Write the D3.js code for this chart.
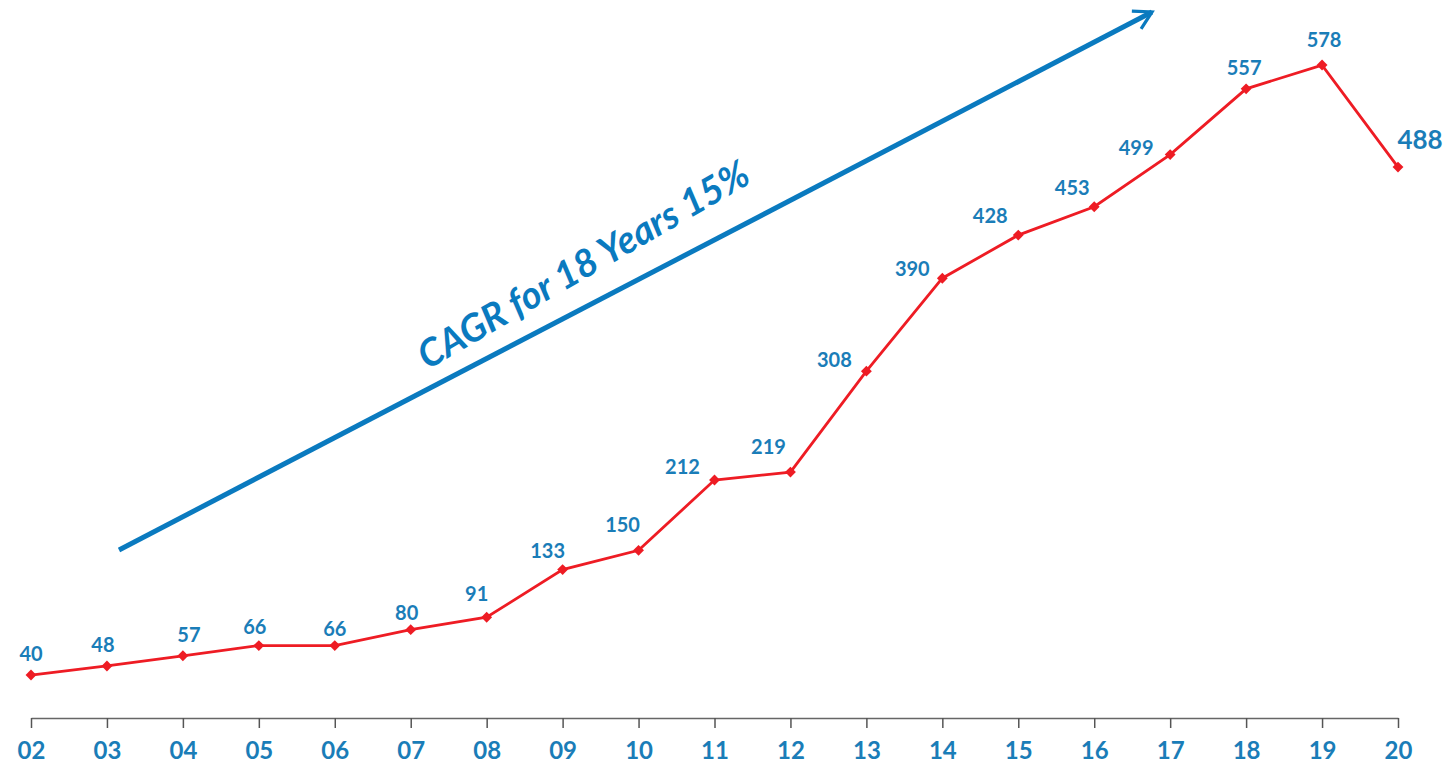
<!DOCTYPE html>
<html>
<head>
<meta charset="utf-8">
<script src="https://cdn.jsdelivr.net/npm/d3@7"></script>
<style>
  body { margin: 0; background: #fff; }
  svg { display: block; }
</style>
</head>
<body>
<svg id="chart" width="1453" height="772"></svg>
<script>
const years = ["02", "03", "04", "05", "06", "07", "08", "09", "10", "11", "12", "13", "14", "15", "16", "17", "18", "19", "20"];
const values = [40, 48, 57, 66, 66, 80, 91, 133, 150, 212, 219, 308, 390, 428, 453, 499, 557, 578, 488];
const cagrLabel = "CAGR for 18 Years 15%";

// label nudges (layout only)
const labelDx = [0, -4, 6, -4, 0, -4, -10, -15, -16, -32, -22, -32, -30, -28, -22, -34, -2, 2, 22];
const labelDy = [-14, -14, -14, -12, -10, -10, -16, -12, -18, -6, -18, -4, -2, -12, -12, 0, -14, -18, -18];

const svg = d3.select("#chart");
const blue = "#1a7db8";
const font = "Lato, 'Open Sans', sans-serif";

const x = d3.scalePoint().domain(years).range([31, 1398]);
const y = d3.scaleLinear().domain([0, 600]).range([720.4, 40.1]);

// axis
const axis = svg.append("g")
  .attr("transform", "translate(0,718)")
  .call(d3.axisBottom(x).tickSize(10).tickSizeOuter(0).tickPadding(14));
axis.select(".domain").attr("stroke", "#666").attr("stroke-width", 1.5);
axis.selectAll(".tick line").attr("stroke", "#555").attr("stroke-width", 1.5);
axis.selectAll(".tick text")
  .attr("fill", blue)
  .attr("font-family", font)
  .attr("font-weight", "bold")
  .attr("font-size", "24px");

// CAGR arrow
svg.append("defs").append("marker")
  .attr("id", "arrowHead")
  .attr("viewBox", "0 0 10 10")
  .attr("refX", 8)
  .attr("refY", 5)
  .attr("markerWidth", 5)
  .attr("markerHeight", 5)
  .attr("orient", "auto")
  .append("path")
  .attr("d", "M1,1 L8,5 L1,9")
  .attr("fill", "none")
  .attr("stroke", "#0a7abf")
  .attr("stroke-width", 1.3);

svg.append("line")
  .attr("x1", 119).attr("y1", 550)
  .attr("x2", 1152).attr("y2", 12)
  .attr("stroke", "#0a7abf")
  .attr("stroke-width", 5)
  .attr("marker-end", "url(#arrowHead)");

svg.append("text")
  .attr("transform", "translate(590,276) rotate(-30)")
  .attr("text-anchor", "middle")
  .attr("fill", "#0a7abf")
  .attr("font-family", font)
  .attr("font-style", "italic")
  .attr("font-weight", "bold")
  .attr("font-size", "38px")
  .text(cagrLabel);

// line
const data = years.map((yr, i) => ({ year: yr, value: values[i], i: i }));

svg.append("path")
  .datum(data)
  .attr("d", d3.line().x(d => x(d.year)).y(d => y(d.value)))
  .attr("fill", "none")
  .attr("stroke", "#ee1c24")
  .attr("stroke-width", 2.8);

svg.selectAll(".pt")
  .data(data)
  .enter()
  .append("path")
  .attr("class", "pt")
  .attr("transform", d => "translate(" + x(d.year) + "," + y(d.value) + ")")
  .attr("d", d3.symbol().type(d3.symbolDiamond2).size(75))
  .attr("fill", "#ee1c24");

svg.selectAll(".val")
  .data(data)
  .enter()
  .append("text")
  .attr("class", "val")
  .attr("x", d => x(d.year) + labelDx[d.i])
  .attr("y", d => y(d.value) + labelDy[d.i])
  .attr("text-anchor", "middle")
  .attr("fill", blue)
  .attr("font-family", font)
  .attr("font-weight", "bold")
  .attr("font-size", d => d.i === values.length - 1 ? "26px" : "20px")
  .text(d => d.value);
</script>
</body>
</html>
